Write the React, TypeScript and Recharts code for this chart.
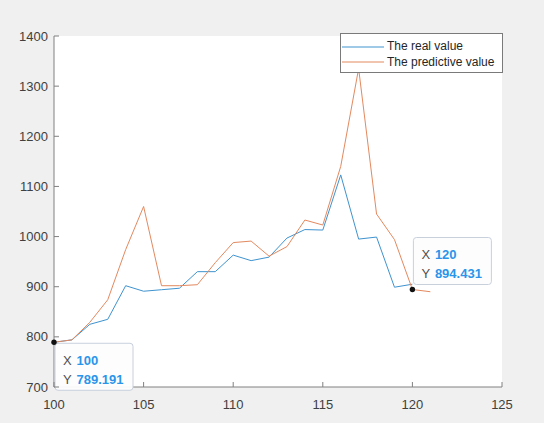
import { LineChart, Line, XAxis, YAxis, CartesianGrid, Legend, ReferenceDot } from 'recharts';

const xValues = [100, 101, 102, 103, 104, 105, 106, 107, 108, 109, 110, 111, 112, 113, 114, 115, 116, 117, 118, 119, 120, 121];
const realValue = [789.191, 794, 825, 835, 902, 891, 894, 897, 930, 930, 963, 952, 959, 997, 1014, 1013, 1123, 995, 999, 899, 905, null];
const predictiveValue = [789.191, 794, 829, 874, 974, 1060, 902, 902, 904, 948, 988, 991, 961, 980, 1033, 1023, 1140, 1335, 1045, 994, 894.431, 890];

const seriesNames = ['The real value', 'The predictive value'];

const xTicks = [100, 105, 110, 115, 120, 125];
const yTicks = [700, 800, 900, 1000, 1100, 1200, 1300, 1400];

const dataTips = [
  { x: 100, y: 789.191 },
  { x: 120, y: 894.431 },
];

const data = xValues.map((x, i) => ({ x, real: realValue[i], predictive: predictiveValue[i] }));

const FONT = '"Liberation Sans", Arial, Helvetica, sans-serif';
const AXIS = '#808080';
const LABEL = '#404040';
const TIP_BLUE = '#2a95ea';

function BottomTick({ x, y, payload }: any) {
  return (
    <g>
      <line x1={x} x2={x} y1={y} y2={y - 5} stroke={AXIS} />
      <text x={x} y={y + 22} textAnchor="middle" fill={LABEL} fontSize={13} fontFamily={FONT}>
        {payload.value}
      </text>
    </g>
  );
}

function LeftTick({ x, y, payload }: any) {
  return (
    <g>
      <line x1={x} x2={x + 5} y1={y} y2={y} stroke={AXIS} />
      <text x={x - 6} y={y + 4.5} textAnchor="end" fill={LABEL} fontSize={13} fontFamily={FONT}>
        {payload.value}
      </text>
    </g>
  );
}

function TopTick({ x, y }: any) {
  return <line x1={x} x2={x} y1={y} y2={y + 5} stroke={AXIS} />;
}

function RightTick({ x, y }: any) {
  return <line x1={x} x2={x - 5} y1={y} y2={y} stroke={AXIS} />;
}

function LegendBox({ payload }: any) {
  // keep plotting order rather than alphabetical
  const items = [...(payload || [])].sort(
    (a: any, b: any) => seriesNames.indexOf(a.value) - seriesNames.indexOf(b.value)
  );
  return (
    <div
      style={{
        width: 163,
        height: 40,
        boxSizing: 'border-box',
        border: '1px solid #7a7a7a',
        background: '#fff',
        fontFamily: FONT,
        fontSize: 12,
        color: '#262626',
        paddingTop: 5,
      }}
    >
      {items.map((p: any) => (
        <div key={p.value} style={{ display: 'flex', alignItems: 'center', height: 15.6 }}>
          <svg width={44} height={10} style={{ display: 'block' }}>
            <line x1={1} x2={43} y1={5} y2={5} stroke={p.color} strokeWidth={1} />
          </svg>
          <span style={{ marginLeft: 2, lineHeight: '15px' }}>{p.value}</span>
        </div>
      ))}
    </div>
  );
}

// data tip: black marker plus a boxed X / Y readout
function tipShape(x: number, y: number, below: boolean) {
  return (props: any) => {
    const { cx, cy } = props;
    const w = 78;
    const h = 47;
    const left = cx + 1;
    const top = below ? cy + 1 : cy - 52;
    return (
      <g>
        <rect x={left} y={top} width={w} height={h} rx={3} fill="#fdfdfd" fillOpacity={0.95} stroke="#c8d0dc" />
        <text x={left + 8} y={top + 21.5} fontSize={13} fontFamily={FONT} fill="#505050">X</text>
        <text x={left + 21.5} y={top + 21.5} fontSize={13} fontFamily={FONT} fontWeight="bold" fill={TIP_BLUE}>{x}</text>
        <text x={left + 8} y={top + 40.5} fontSize={13} fontFamily={FONT} fill="#505050">Y</text>
        <text x={left + 21.5} y={top + 40.5} fontSize={13} fontFamily={FONT} fontWeight="bold" fill={TIP_BLUE}>{y.toFixed(3)}</text>
        <circle cx={cx} cy={cy} r={2.7} fill="#111" />
      </g>
    );
  };
}

export default function App() {
  return (
    <div style={{ position: 'absolute', left: 0, top: 0, width: 544, height: 423, background: '#f0f0f0' }}>
      <LineChart width={544} height={423} data={data} margin={{ top: 36, right: 42, bottom: 0, left: 0 }}>
        <CartesianGrid xAxisId="b" yAxisId="l" horizontal={false} vertical={false} fill="#ffffff" />
        <XAxis
          xAxisId="b"
          dataKey="x"
          type="number"
          domain={[100, 125]}
          ticks={xTicks}
          interval={0}
          height={36}
          tickSize={0}
          tickMargin={0}
          tickLine={false}
          axisLine={{ stroke: AXIS }}
          tick={<BottomTick />}
        />
        <XAxis
          xAxisId="t"
          orientation="top"
          dataKey="x"
          type="number"
          domain={[100, 125]}
          ticks={xTicks}
          interval={0}
          height={0}
          tickSize={0}
          tickMargin={0}
          tickLine={false}
          axisLine={{ stroke: AXIS }}
          tick={<TopTick />}
        />
        <YAxis
          yAxisId="l"
          type="number"
          domain={[700, 1400]}
          ticks={yTicks}
          interval={0}
          width={54}
          tickSize={0}
          tickMargin={0}
          tickLine={false}
          axisLine={{ stroke: AXIS }}
          tick={<LeftTick />}
        />
        <YAxis
          yAxisId="r"
          orientation="right"
          type="number"
          domain={[700, 1400]}
          ticks={yTicks}
          interval={0}
          width={0}
          tickSize={0}
          tickMargin={0}
          tickLine={false}
          axisLine={{ stroke: AXIS }}
          tick={<RightTick />}
        />
        <Line
          xAxisId="b"
          yAxisId="l"
          dataKey="real"
          name={seriesNames[0]}
          stroke="#3f93cf"
          strokeWidth={1}
          dot={false}
          activeDot={false}
          isAnimationActive={false}
        />
        <Line
          xAxisId="b"
          yAxisId="l"
          dataKey="predictive"
          name={seriesNames[1]}
          stroke="#e3895f"
          strokeWidth={1}
          dot={false}
          activeDot={false}
          isAnimationActive={false}
        />
        <Legend
          layout="horizontal"
          align="center"
          verticalAlign="middle"
          wrapperStyle={{ top: 33, left: 340, width: 163, height: 40 }}
          content={<LegendBox />}
        />
        {dataTips.map((t, i) => (
          <ReferenceDot
            key={t.x}
            xAxisId="b"
            yAxisId="l"
            x={t.x}
            y={t.y}
            r={3}
            ifOverflow="visible"
            shape={tipShape(t.x, t.y, i === 0)}
          />
        ))}
      </LineChart>
    </div>
  );
}
